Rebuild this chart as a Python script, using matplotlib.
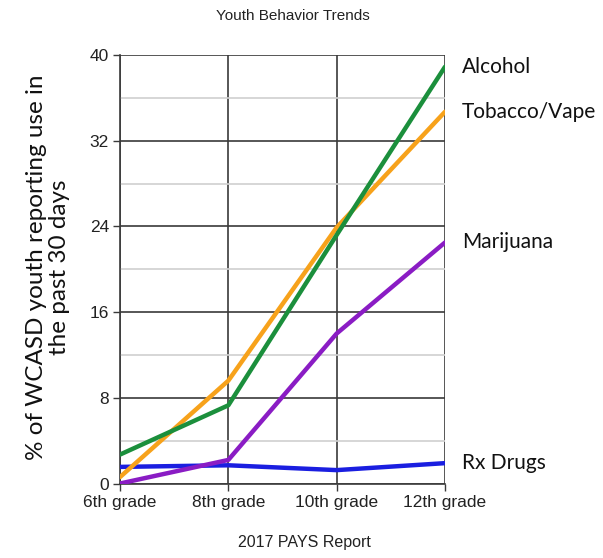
import matplotlib
matplotlib.use("Agg")
import matplotlib.pyplot as plt
from matplotlib.ticker import MultipleLocator
from matplotlib import font_manager

grades = ["6th grade", "8th grade", "10th grade", "12th grade"]
alcohol = [2.7, 7.3, 23.2, 38.9]
tobacco = [0.6, 9.6, 23.9, 34.7]
marijuana = [0.0, 2.2, 14.0, 22.5]
rx_drugs = [1.55, 1.7, 1.25, 1.9]
series_names = ["Alcohol", "Tobacco/Vape", "Marijuana", "Rx Drugs"]
y_ticks = [0, 8, 16, 24, 32, 40]

names = {f.name for f in font_manager.fontManager.ttflist}
narrow = "Liberation Sans Narrow" if "Liberation Sans Narrow" in names else "Liberation Sans"
label_font = "Lato"

fig = plt.figure(figsize=(6.03, 5.58), dpi=100)
ax = fig.add_axes([120/603, 1-483.5/558, 325/603, 428.5/558])

x = list(range(len(grades)))
colors = ["#1b8f3c", "#f7a21b", "#8a1cc4", "#1a1ee0"]
data = [alcohol, tobacco, marijuana, rx_drugs]
for i in [3, 2, 1, 0]:
    ax.plot(x, data[i], color=colors[i], lw=3.2, solid_capstyle="round", zorder=3 + (3 - i))

ax.set_xlim(0, 3)
ax.set_ylim(0, 40)
ax.set_xticks(x)
ax.set_xticklabels(grades)
ax.set_yticks(y_ticks)
ax.yaxis.set_minor_locator(MultipleLocator(4))
ax.grid(which="major", color="#3a3a3a", lw=1.2, zorder=1)
ax.grid(which="minor", axis="y", color="#d0d0d0", lw=1.2, zorder=0)
for s in ["top", "right"]:
    ax.spines[s].set_visible(False)
for s in ["left", "bottom"]:
    ax.spines[s].set_color("#3a3a3a")
    ax.spines[s].set_linewidth(1.2)
ax.tick_params(which="major", length=5, width=1.0, color="#3a3a3a",
               labelsize=12.5, labelcolor="#222222", pad=3)
ax.tick_params(which="minor", length=0)
for lab in ax.get_xticklabels() + ax.get_yticklabels():
    lab.set_fontfamily(narrow)

for name, vals in zip(series_names, data):
    ax.annotate(name, xy=(3, vals[-1]), xytext=(12, 0), textcoords="offset points",
                va="center", ha="left", fontsize=15, family=label_font,
                color="#111111", annotation_clip=False)

fig.text(293/603, 1-16/558, "Youth Behavior Trends", ha="center", va="center",
         fontsize=11, family=narrow, color="#222222")
fig.text(304/603, 1-543/558, "2017 PAYS Report", ha="center", va="center",
         fontsize=11.5, family=narrow, color="#222222")
fig.text(48/603, 1-267/558, "% of WCASD youth reporting use in\nthe past 30 days",
         rotation=90, ha="center", va="center", fontsize=17.5, family=label_font,
         color="#111111", linespacing=1.15, multialignment="center")

fig.savefig("out.png", dpi=100)
